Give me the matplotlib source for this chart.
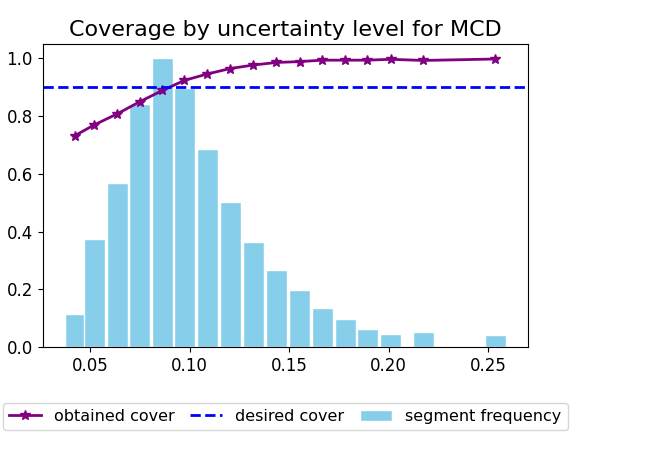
import matplotlib
matplotlib.use("Agg")
import matplotlib.pyplot as plt
import numpy as np

# mean uncertainty of each segment
unc = [0.0423, 0.0520, 0.0635, 0.0748, 0.0862, 0.0973, 0.1087, 0.1203, 0.1318,
       0.1434, 0.1552, 0.1665, 0.1782, 0.1893, 0.2010, 0.2173, 0.2535]
# obtained coverage per segment
cover = [0.733, 0.770, 0.808, 0.850, 0.889, 0.924, 0.946, 0.965, 0.977,
         0.986, 0.989, 0.994, 0.994, 0.994, 0.997, 0.993, 0.998]
# relative frequency of each segment
freq = [0.115, 0.376, 0.567, 0.842, 1.0, 0.897, 0.686, 0.502, 0.365,
        0.268, 0.199, 0.136, 0.097, 0.063, 0.046, 0.053, 0.042]
desired = 0.9

plt.rcParams['font.size'] = 12

fig = plt.figure(figsize=(6.58, 4.68), dpi=100)
ax = fig.add_axes([0.0646, 0.258, 0.7374, 0.648])

ax.plot(unc, cover, color='purple', marker='*', linewidth=2, markersize=7,
        label='obtained cover')
ax.axhline(desired, color='blue', linestyle='--', linewidth=2, label='desired cover')
ax.bar(unc, freq, width=0.0105, color='skyblue', edgecolor='white',
       label='segment frequency')

ax.tick_params(labelsize=12)
ax.set_title("Coverage by uncertainty level for MCD", fontsize=16)
ax.legend(loc='upper center', bbox_to_anchor=(0.5, -0.156), ncol=3,
          fontsize=11.5, columnspacing=1.0)

fig.savefig("out.png", dpi=100)
